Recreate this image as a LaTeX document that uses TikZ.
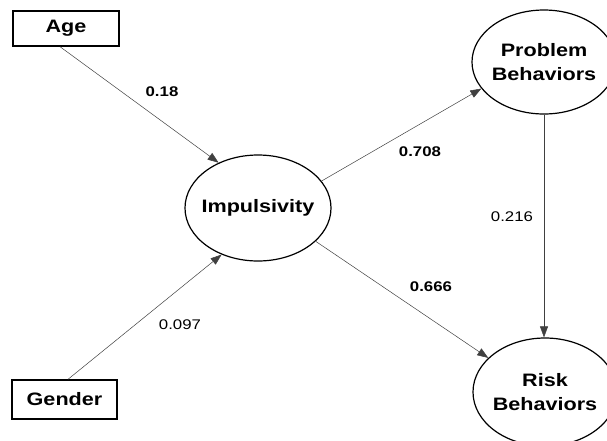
\documentclass[tikz,border=0pt]{standalone}
\usepackage{fontspec}
\setmainfont{Liberation Sans}[FakeStretch=1.2]
\usetikzlibrary{arrows.meta,shapes.geometric}
\begin{document}
\begin{tikzpicture}[x=1pt,y=-1pt,
  namebox/.style={draw,line width=1.4pt,inner sep=0pt,font=\fontsize{18}{22}\selectfont\bfseries},
  latent/.style={draw,ellipse,line width=1.2pt,inner sep=0pt},
  lbl/.style={font=\fontsize{18}{23.5}\selectfont\bfseries,align=center},
  conn/.style={line width=0.5pt,draw=black!75,-{Triangle[length=11pt,width=8pt]}},
  coef/.style={font=\fontsize{14}{16}\selectfont\bfseries,inner sep=0pt},
  coefr/.style={font=\fontsize{14}{16}\selectfont,inner sep=0pt}]
\useasboundingbox (0,0) rectangle (607,440);
\clip (0,0) rectangle (607,440);
\node[namebox,minimum width=106pt,minimum height=35pt] (age) at (66,28.5) {Age};
\node[namebox,minimum width=105pt,minimum height=39pt] (gender) at (64.5,399.5) {Gender};
\node[latent,minimum width=146pt,minimum height=106pt,label={[lbl]center:Impulsivity}] (imp) at (258,208) {};
\node[latent,minimum width=144pt,minimum height=104pt,label={[lbl]center:Problem\\Behaviors}] (prob) at (544,62) {};
\node[latent,minimum width=144pt,minimum height=108pt,label={[lbl]center:Risk\\Behaviors}] (risk) at (545,392) {};
\draw[conn] ([xshift=-6pt]age.south) -- (imp.131.6);
\draw[conn] ([xshift=3.5pt]gender.north) -- (imp.232.5);
\draw[conn] (imp.23.6) -- (prob.203.6);
\draw[conn] (imp.330) -- (risk.149.2);
\draw[conn] (prob.south) -- (prob.south |- risk.north);
\node[coef] (c1) at (162,92) {0.18};
\node[coefr] (c2) at (180,325) {0.097};
\node[coef] (c3) at (420,152) {0.708};
\node[coef] (c4) at (431,287) {0.666};
\node[coefr] (c5) at (512,217) {0.216};
\end{tikzpicture}
\end{document}
